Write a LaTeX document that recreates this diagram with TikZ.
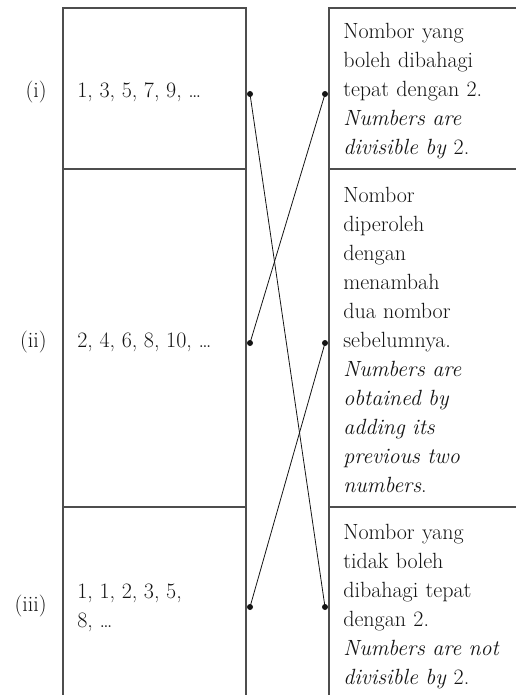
\documentclass[tikz,border=0pt]{standalone}
\usepackage{tikz}
\usetikzlibrary{positioning,calc}
\usepackage{xcolor}
\definecolor{rulegray}{HTML}{4D4D4D}
\definecolor{inkdark}{HTML}{141414}

\begin{document}
\begin{tikzpicture}[x=0.75pt,y=-0.75pt,
    cell/.style={draw=rulegray,line width=0.95pt},
    link/.style={draw=inkdark,line width=0.6pt},
    txt/.style={inner sep=0pt,text=inkdark,font=\fontsize{16.5}{21.75}\selectfont},
    seq/.style={txt,anchor=base west},
    num/.style={txt,anchor=base east},
    desc/.style={txt,anchor=north west,align=left,text width=128pt}]
        \useasboundingbox (0,0) rectangle (516,695);
        \clip (0,0) rectangle (516,695);
        % Jadual kiri
        \draw[cell] (63,8) rectangle (246,169);
        \draw[cell] (63,169) rectangle (246,507);
        \draw[cell] (63,507) rectangle (246,705);
        % Jadual kanan
        \draw[cell] (329,8) rectangle (525,169);
        \draw[cell] (329,169) rectangle (525,507);
        \draw[cell] (329,507) rectangle (525,705);
        % Label baris
        \node[num] (n1) at (47,98) {(i)};
        \node[num] (n2) at (47,347) {(ii)};
        \node[num] (n3) at (47,611) {(iii)};
        % Jujukan
        \node[seq] (s1) at (77,98) {1, 3, 5, 7, 9, \dots};
        \node[seq] (s2) at (77,347) {2, 4, 6, 8, 10, \dots};
        \node[txt,anchor=north west,align=left] (s3) at (77,584)
          {1, 1, 2, 3, 5,\\ 8, \dots};
        % Huraian
        \node[desc] (d1) at (343,23) {Nombor yang\\ boleh dibahagi\\
          tepat dengan 2.\\ \textit{Numbers are}\\ \textit{divisible by} 2.};
        \node[desc] (d2) at (343,187) {Nombor\\ diperoleh\\ dengan\\ menambah\\
          dua nombor\\ sebelumnya.\\ \textit{Numbers are}\\ \textit{obtained by}\\
          \textit{adding its}\\ \textit{previous two}\\ \textit{numbers}.};
        \node[desc] (d3) at (343,524) {Nombor yang\\ tidak boleh\\
          dibahagi tepat\\ dengan 2.\\ \textit{Numbers are not}\\ \textit{divisible by} 2.};
        % Titik sambungan
        \foreach \i/\y in {1/94, 2/343, 3/607}{
          \coordinate (L\i) at (250,\y);
          \coordinate (R\i) at (325,\y);
          \fill[inkdark] (L\i) circle (3);
          \fill[inkdark] (R\i) circle (3);}
        % Padanan
        \draw[link] (L1) -- (R3);
        \draw[link] (L2) -- (R1);
        \draw[link] (L3) -- (R2);
\end{tikzpicture}
\end{document}
